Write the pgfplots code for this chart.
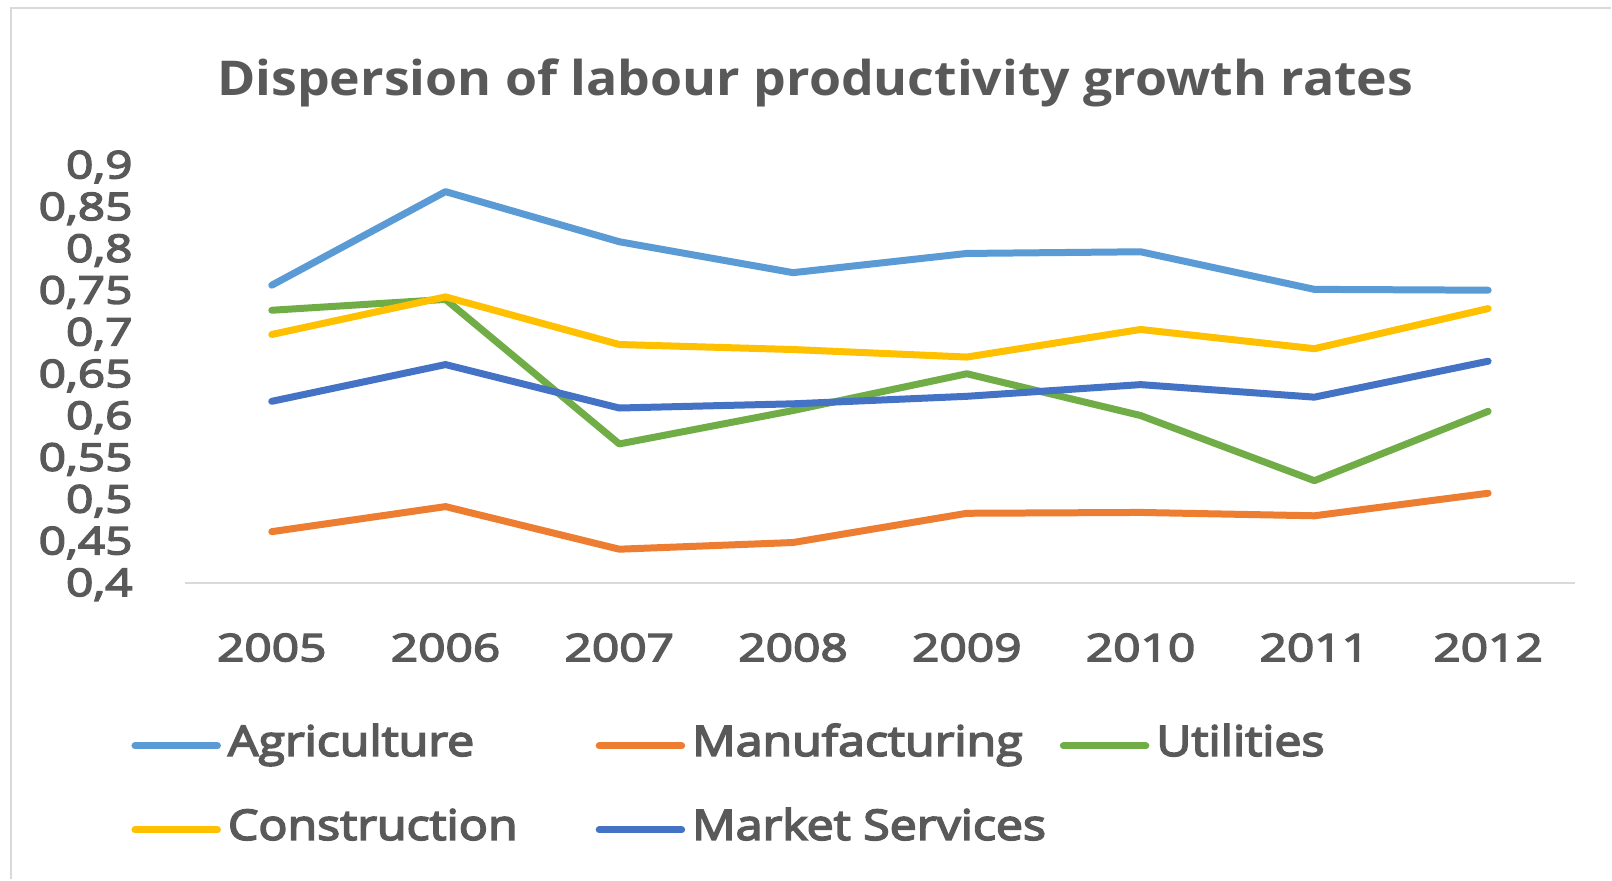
\documentclass[border=0pt]{standalone}
\usepackage{fontspec}
\setmainfont{Open Sans}[FakeStretch=1.15, FakeBold=4]
\newfontfamily\tickfont{Open Sans}[FakeStretch=1.26, FakeBold=4]
\newfontfamily\titlefont{Open Sans}[FakeStretch=1.08]
\usepackage{pgfplots}
\pgfplotsset{compat=1.18}
\usepackage{pgfplotstable}
\definecolor{tcol}{HTML}{595959}
\definecolor{lineg}{HTML}{D9D9D9}
\definecolor{cagri}{HTML}{5B9BD5}
\definecolor{cmanu}{HTML}{ED7D31}
\definecolor{cutil}{HTML}{70AD47}
\definecolor{ccons}{HTML}{FFC000}
\definecolor{cmark}{HTML}{4472C4}

\pgfplotstableread{
x agri manu util cons mark
0 0.756 0.461 0.726 0.697 0.617
1 0.868 0.491 0.739 0.742 0.661
2 0.808 0.440 0.566 0.685 0.609
3 0.771 0.448 0.606 0.679 0.614
4 0.794 0.483 0.650 0.670 0.623
5 0.796 0.484 0.600 0.703 0.637
6 0.751 0.480 0.522 0.680 0.622
7 0.750 0.507 0.605 0.728 0.665
}\datatable

\tikzset{ser/.style={line width=3.5pt, line join=round, line cap=round}}

\begin{document}
\begin{tikzpicture}
\path[fill=white] (0pt,0pt) rectangle (806pt,440pt);
\draw[lineg, line width=1pt] (5.5pt,0pt) -- (5.5pt,436pt) -- (806pt,436pt);
\node[anchor=base, text=tcol, font=\titlefont\fontsize{24}{28}\selectfont\bfseries] at (407.9pt,392pt) {Dispersion of labour productivity growth rates};
\begin{axis}[
  at={(92.5pt,148.5pt)}, anchor=south west,
  scale only axis, width=695.5pt, height=209pt,
  xmin=-0.5, xmax=7.5, ymin=0.4, ymax=0.9,
  clip=false,
  axis y line*=left,
  axis x line*=bottom,
  y axis line style={draw=none},
  x axis line style={-, draw=lineg, line width=1pt},
  major tick length=0pt,
  xtick={0,1,2,3,4,5,6,7},
  xticklabels={2005,2006,2007,2008,2009,2010,2011,2012},
  ytick={0.4,0.45,0.5,0.55,0.6,0.65,0.7,0.75,0.8,0.85,0.9},
  yticklabels={{0,4},{0,45},{0,5},{0,55},{0,6},{0,65},{0,7},{0,75},{0,8},{0,85},{0,9}},
  xticklabel style={anchor=center, inner sep=0pt, yshift=-32.5pt, text=tcol, font=\tickfont\fontsize{19}{22}\selectfont},
  yticklabel style={anchor=base east, inner sep=0pt, xshift=-26pt, yshift=-6.7pt, text=tcol, font=\tickfont\fontsize{19}{22}\selectfont},
  legend columns=3,
  legend cell align=left,
  legend image code/.code={\draw[#1] (1.75pt,0pt) -- (43pt,0pt);},
  legend style={draw=none, fill=none, inner sep=0pt, outer sep=0pt, row sep=22pt,
    nodes={inner sep=0pt, text height=15pt, text depth=5pt},
    font=\fontsize{21}{25}\selectfont, text=tcol,
    at={(-0.0384,-0.343)}, anchor=north west,
    /tikz/every odd column/.append style={column sep=3.5pt},
    /tikz/every even column/.append style={column sep=6pt}},
]
\addplot[cagri, no markers, ser] table[x=x, y=agri] {\datatable};
\addlegendentry{\makebox[178pt][l]{Agriculture}}
\addplot[cmanu, no markers, ser] table[x=x, y=manu] {\datatable};
\addlegendentry{\makebox[178pt][l]{Manufacturing}}
\addplot[cutil, no markers, ser] table[x=x, y=util] {\datatable};
\addlegendentry{Utilities}
\addplot[ccons, no markers, ser] table[x=x, y=cons] {\datatable};
\addlegendentry{\makebox[178pt][l]{Construction}}
\addplot[cmark, no markers, ser] table[x=x, y=mark] {\datatable};
\addlegendentry{\makebox[178pt][l]{Market Services}}
\end{axis}
\end{tikzpicture}
\end{document}
